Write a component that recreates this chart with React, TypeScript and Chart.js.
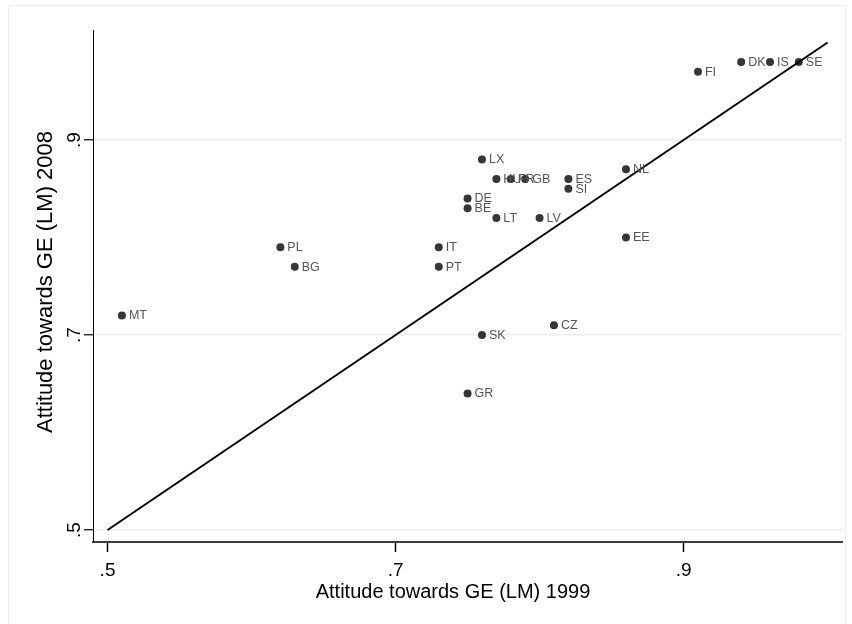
import React, { useEffect, useRef } from "react";
import { Chart, registerables } from "chart.js";

Chart.register(...registerables);

const countryCodes = ["MT","PL","BG","IT","PT","SK","GR","CZ","LX","DE","BE","LT","LV","HU","FR","GB","ES","SI","NL","EE","FI","DK","IS","SE"];
const attitude1999 = [0.51,0.62,0.63,0.73,0.73,0.76,0.75,0.81,0.76,0.75,0.75,0.77,0.80,0.77,0.78,0.79,0.82,0.82,0.86,0.86,0.91,0.94,0.96,0.98];
const attitude2008 = [0.72,0.79,0.77,0.79,0.77,0.70,0.64,0.71,0.88,0.84,0.83,0.82,0.82,0.86,0.86,0.86,0.86,0.85,0.87,0.80,0.97,0.98,0.98,0.98];
const diagonalX = [0.5, 1.0];
const diagonalY = [0.5, 1.0];
const tickValues = [0.5, 0.7, 0.9];
const tickLabels = [".5", ".7", ".9"];
const xTitle = "Attitude towards GE (LM) 1999";
const yTitle = "Attitude towards GE (LM) 2008";

const FONT = "'Liberation Sans', Arial, Helvetica, sans-serif";

const textPlugin = {
  id: "stataText",
  beforeDraw(chart: any) {
    const ctx = chart.ctx;
    ctx.save();
    ctx.strokeStyle = "#e8eef2";
    ctx.lineWidth = 1;
    ctx.beginPath();
    ctx.moveTo(8.5, 624);
    ctx.lineTo(8.5, 5.5);
    ctx.lineTo(845.5, 5.5);
    ctx.lineTo(845.5, 624);
    ctx.stroke();
    ctx.restore();
  },
  afterDraw(chart: any) {
    const ctx = chart.ctx;
    const xs = chart.scales.x;
    const ys = chart.scales.y;
    ctx.save();
    // point labels
    const meta = chart.getDatasetMeta(1);
    ctx.fillStyle = "#555555";
    ctx.font = `12.5px ${FONT}`;
    ctx.textAlign = "left";
    ctx.textBaseline = "middle";
    meta.data.forEach((el: any, i: number) => {
      ctx.fillText(countryCodes[i], el.x + 7, el.y + 0.5);
    });
    // tick labels
    ctx.fillStyle = "#000";
    ctx.font = `19px ${FONT}`;
    ctx.textAlign = "center";
    ctx.textBaseline = "alphabetic";
    tickValues.forEach((v, i) => {
      ctx.fillText(tickLabels[i], xs.getPixelForValue(v), 576);
    });
    tickValues.forEach((v, i) => {
      ctx.save();
      ctx.translate(79.5, ys.getPixelForValue(v));
      ctx.rotate(-Math.PI / 2);
      ctx.fillText(tickLabels[i], 0, 0);
      ctx.restore();
    });
    // titles
    ctx.font = `20px ${FONT}`;
    ctx.fillText(xTitle, 453, 598);
    ctx.save();
    ctx.translate(52, 282);
    ctx.rotate(-Math.PI / 2);
    ctx.font = `22px ${FONT}`;
    ctx.fillText(yTitle, 0, 0);
    ctx.restore();
    ctx.restore();
  },
};

export default function App() {
  const ref = useRef<HTMLCanvasElement>(null);
  useEffect(() => {
    if (!ref.current) return;
    const points = attitude1999.map((x, i) => ({ x, y: attitude2008[i] }));
    const diag = diagonalX.map((x, i) => ({ x, y: diagonalY[i] }));
    const chart = new Chart(ref.current, {
      type: "scatter",
      data: {
        datasets: [
          {
            label: "45 degree line",
            data: diag,
            showLine: true,
            borderColor: "#000",
            borderWidth: 2,
            pointRadius: 0,
            fill: false,
          } as any,
          {
            label: "countries",
            data: points,
            backgroundColor: "#363636",
            borderColor: "#363636",
            borderWidth: 0,
            pointRadius: 4,
          },
        ],
      },
      options: {
        responsive: false,
        animation: false,
        events: [],
        layout: { padding: { left: 0, top: 30, right: 10, bottom: 0 } },
        plugins: { legend: { display: false }, tooltip: { enabled: false }, title: { display: false } },
        scales: {
          x: {
            type: "linear",
            min: 0.4899,
            max: 1.01,
            afterBuildTicks: (s: any) => { s.ticks = tickValues.map((value) => ({ value })); },
            afterFit: (s: any) => { s.height = 82; },
            ticks: { display: false },
            grid: { drawOnChartArea: false, drawTicks: true, tickLength: 10, tickColor: "#000", tickWidth: 1.5 },
            border: { display: true, color: "#3c3c3c", width: 2 },
          },
          y: {
            type: "linear",
            min: 0.4877,
            max: 1.0128,
            afterBuildTicks: (s: any) => { s.ticks = tickValues.map((value) => ({ value })); },
            afterFit: (s: any) => { s.width = 93; },
            ticks: { display: false },
            grid: { drawOnChartArea: true, color: "#e6eef1", lineWidth: 1.5, drawTicks: true, tickLength: 9, tickColor: "#000", tickWidth: 1.2 },
            border: { display: true, color: "#000", width: 1 },
          },
        },
      },
      plugins: [textPlugin],
    });
    return () => chart.destroy();
  }, []);
  return (
    <div style={{ position: "absolute", left: 0, top: 0, width: 852, height: 624, background: "#fff" }}>
      <canvas ref={ref} width={852} height={624} style={{ display: "block" }} />
    </div>
  );
}
